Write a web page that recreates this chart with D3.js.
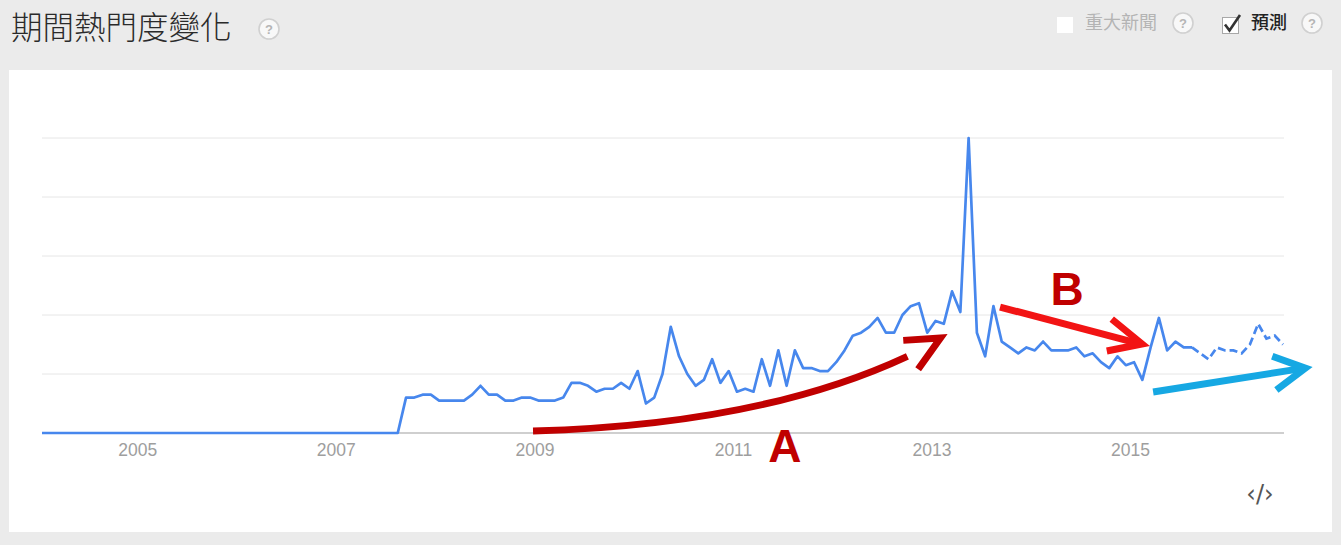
<!DOCTYPE html>
<html>
<head>
<meta charset="utf-8">
<script src="https://cdn.jsdelivr.net/npm/d3@7"></script>
<style>
html,body{margin:0;padding:0;background:#ebebeb;overflow:hidden}
svg{display:block}
</style>
</head>
<body>
<svg id="chart" width="1341" height="545"></svg>
<script>
// ---- data (monthly interest, Jan 2004 .. Jul 2016; index 0 = Jan 2004) ----
const startYear = 2004;
const values = [
  0,0,0,0,0,0,0,0,0,0,0,0,
  0,0,0,0,0,0,0,0,0,0,0,0,
  0,0,0,0,0,0,0,0,0,0,0,0,
  0,0,0,0,0,0,0,0,
  12,12,13,13,11,11,11,11,13,16,13,13,11,11,12,12,11,11,11,12,17,17,16,14,15,15,17,15,21,10,
  12,20,36,26,20,16,18,25,17,21,14,15,14,25,16,28,16,28,22,22,21,21,24,28,33,34,36,39,34,34,
  40,43,44,34,38,37,48,41,100,34,26,43,31,29,27,29,28,31,28,28,28,29,26,
  27,24,22,26,23,24,18,29,39,28,31,29,29,27,25,29,28,28,27,30,37,32,33,30
];
const forecastStartIndex = 139;          // from here on the line is a forecast (dashed)
const yTickValues = [0, 20, 40, 60, 80, 100];
const yearTickIndex = [12, 36, 60, 84, 108, 132];
const yearTickLabels = ["2005", "2007", "2009", "2011", "2013", "2015"];

// annotation arrows in data units: [monthIndex, value]
const arrowA = {start: [59.35, 0.7], ctrl: [86.8, 2.7], end: [104.6, 26.0],
                head: [[104.1, 31.4], [108.6, 32.2], [105.9, 21.6]]};
const arrowB = {start: [115.8, 42.7], end: [132.6, 30.3],
                head: [[129.3, 38.6], [132.96, 30.2], [128.7, 27.8]]};
const arrowC = {start: [134.3, 13.9], end: [152.4, 21.9],
                head: [[148.7, 26.0], [152.7, 22.0], [149.2, 14.6]]};
const labelA = {pos: [89.8, -9.8], text: "A"};
const labelB = {pos: [123.9, 43.4], text: "B"};

// ---- drawing ----
const svg = d3.select("#chart");
const W = 1341, H = 545;

svg.append("rect").attr("width", W).attr("height", H).attr("fill", "#ebebeb");
svg.append("rect").attr("x", 9).attr("y", 70).attr("width", 1323).attr("height", 462).attr("fill", "#ffffff");

const x = d3.scaleLinear().domain([0, values.length - 1]).range([42, 1283]);
const y = d3.scaleLinear().domain([0, 100]).range([433, 138]);

// header
svg.append("text").attr("x", 11).attr("y", 39)
  .attr("font-family", "'Noto Sans CJK TC','Noto Sans CJK SC',sans-serif")
  .attr("font-weight", 300).attr("font-size", 31.5).attr("fill", "#2a2a2a")
  .text("期間熱門度變化");

function helpIcon(cx, cy) {
  const g = svg.append("g");
  g.append("circle").attr("cx", cx).attr("cy", cy).attr("r", 10)
    .attr("fill", "#f8f8f8").attr("stroke", "#d0d0d0").attr("stroke-width", 1.6);
  g.append("text").attr("x", cx).attr("y", cy + 5).attr("text-anchor", "middle")
    .attr("font-family", "'Liberation Sans',Arial,sans-serif").attr("font-weight", "bold")
    .attr("font-size", 13).attr("fill", "#b5b5b5").text("?");
}
helpIcon(269, 29);

svg.append("rect").attr("x", 1057).attr("y", 17).attr("width", 16).attr("height", 16).attr("fill", "#ffffff");
svg.append("text").attr("x", 1085).attr("y", 29)
  .attr("font-family", "'Noto Sans CJK TC',sans-serif").attr("font-size", 18).attr("fill", "#b4b4b4")
  .text("重大新聞");
helpIcon(1183, 23);

svg.append("rect").attr("x", 1222.5).attr("y", 17.5).attr("width", 16).attr("height", 16)
  .attr("fill", "#ffffff").attr("stroke", "#a8a8a8").attr("stroke-width", 1);
svg.append("path").attr("d", "M1225,24.5 L1229.5,30.5 L1240,15")
  .attr("fill", "none").attr("stroke", "#333").attr("stroke-width", 2.6);
svg.append("text").attr("x", 1251).attr("y", 29)
  .attr("font-family", "'Noto Sans CJK TC',sans-serif").attr("font-weight", 500)
  .attr("font-size", 18).attr("fill", "#222")
  .text("預測");
helpIcon(1312, 23);

// grid
const grid = svg.append("g");
grid.selectAll("line").data(yTickValues.filter(v => v > 0)).join("line")
  .attr("x1", 42).attr("x2", 1284)
  .attr("y1", d => y(d)).attr("y2", d => y(d))
  .attr("stroke", "#e6e6e6").attr("stroke-width", 1);

// x axis
const xAxis = d3.axisBottom(x).tickValues(yearTickIndex)
  .tickFormat((d, i) => yearTickLabels[i]).tickSize(0).tickPadding(10);
const ax = svg.append("g").attr("transform", `translate(0,${y(0)})`).call(xAxis);
ax.select(".domain").remove();
ax.selectAll("text").attr("font-family", "'Liberation Sans',Arial,sans-serif")
  .attr("font-size", 17.5).attr("fill", "#9e9e9e").attr("dx", -4).attr("dy", "0.75em");
svg.append("line").attr("x1", 42).attr("x2", 1284).attr("y1", y(0)).attr("y2", y(0))
  .attr("stroke", "#a0a0a0").attr("stroke-width", 1.2);

// series
const line = d3.line().x(d => x(d.i)).y(d => y(d.v));
const pts = values.map((v, i) => ({i, v}));
svg.append("path").datum(pts.filter(d => d.i <= forecastStartIndex))
  .attr("d", line).attr("fill", "none").attr("stroke", "#4787ed")
  .attr("stroke-width", 2.7).attr("stroke-linejoin", "round");
svg.append("path").datum(pts.filter(d => d.i >= forecastStartIndex))
  .attr("d", line).attr("fill", "none").attr("stroke", "#4787ed")
  .attr("stroke-width", 2.7).attr("stroke-dasharray", "8,4");

// annotations
const P = p => [x(p[0]), y(p[1])];
function drawArrow(a, color) {
  const s = P(a.start), e = P(a.end);
  let d;
  if (a.ctrl) {
    const c = P(a.ctrl);
    const pth = d3.path(); pth.moveTo(s[0], s[1]); pth.quadraticCurveTo(c[0], c[1], e[0], e[1]);
    d = pth.toString();
  } else {
    d = `M${s[0]},${s[1]}L${e[0]},${e[1]}`;
  }
  svg.append("path").attr("d", d).attr("fill", "none").attr("stroke", color)
    .attr("stroke-width", 7);
  svg.append("path").attr("d", d3.line()(a.head.map(P))).attr("fill", "none")
    .attr("stroke", color).attr("stroke-width", 7).attr("stroke-linejoin", "miter");
}
drawArrow(arrowA, "#c00000");
drawArrow(arrowB, "#f21414");
drawArrow(arrowC, "#16a8e3");

[labelA, labelB].forEach(l => {
  const p = P(l.pos);
  svg.append("text").attr("x", p[0]).attr("y", p[1]).attr("text-anchor", "middle")
    .attr("font-family", "'Liberation Sans',Arial,sans-serif").attr("font-weight", "bold")
    .attr("font-size", 46).attr("fill", "#c00000").text(l.text);
});

// embed icon
svg.append("text").attr("x", 1260).attr("y", 502).attr("text-anchor", "middle")
  .attr("font-family", "'DejaVu Sans',sans-serif").attr("font-size", 24).attr("fill", "#555")
  .text("‹/›");
</script>
</body>
</html>
